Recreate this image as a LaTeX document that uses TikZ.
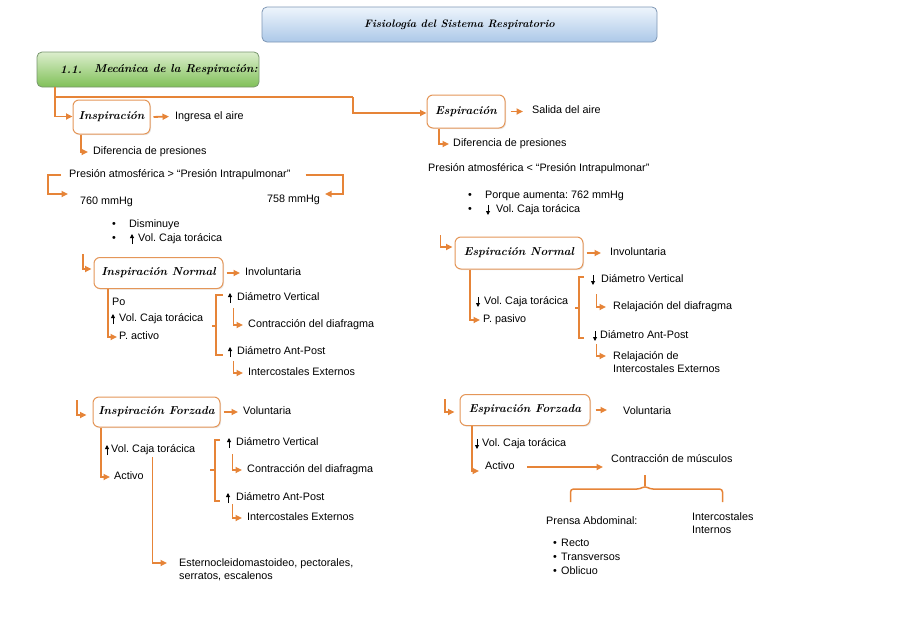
\documentclass[tikz,border=0pt]{standalone}
\usepackage{fontspec}
\newfontfamily\sansf{Liberation Sans}
\usetikzlibrary{arrows.meta,shadows,calc}
\definecolor{orl}{RGB}{230,132,56}
\definecolor{boxo}{RGB}{228,150,88}
\definecolor{ttlA}{RGB}{238,245,252}
\definecolor{ttlB}{RGB}{172,200,232}
\definecolor{ttlD}{RGB}{125,150,180}
\definecolor{grA}{RGB}{220,238,205}
\definecolor{grB}{RGB}{128,192,88}
\definecolor{grD}{RGB}{120,150,110}
\frenchspacing
\begin{document}
\begin{tikzpicture}[x=1pt,y=-1pt,
  txt/.style={anchor=west, inner sep=0pt, align=left, text height=8pt, text depth=2.5pt,
     font=\sansf\fontsize{10.8}{13.5}\selectfont},
  txtm/.style={txt, text height={}, text depth={}},
  concept/.style={draw=boxo, line width=1pt, fill=white, rounded corners=6pt,
     drop shadow={opacity=0.18, shadow xshift=1pt, shadow yshift=-1.2pt},
     font=\fontsize{11.5}{14}\selectfont\bfseries\itshape, inner sep=0pt},
  ttlbox/.style={draw=ttlD, line width=0.8pt, rounded corners=5pt, top color=ttlA, bottom color=ttlB,
     font=\fontsize{10.8}{13}\selectfont\bfseries\itshape, inner sep=0pt},
  secbox/.style={draw=grD, line width=0.8pt, rounded corners=5pt, top color=grA, bottom color=grB, inner sep=0pt},
  sectxt/.style={anchor=west, inner sep=0pt, font=\fontsize{11.5}{13}\selectfont\bfseries\itshape},
  con/.style={draw=orl, line width=1.8pt, -{Triangle[length=6.5pt,width=6pt]}},
  ln/.style={draw=orl, line width=1.5pt},
  vup/.style={draw=black, line width=0.9pt, -{Triangle[length=4pt,width=4pt]}}
]
\useasboundingbox (0,0) rectangle (905,640);

% ---- headers ----
\node[ttlbox, minimum width=395pt, minimum height=35pt] (ttl) at (459.5,24.5) {Fisiología del Sistema Respiratorio};
\node[secbox, minimum width=222pt, minimum height=35pt] (sec) at (148,69.5) {};
\node[sectxt] (secn) at (60,69.5) {1.1.};
\node[sectxt] (sect) at (94,69.5) {Mecánica de la Respiración:};

% ---- main concepts ----
\node[concept, minimum width=77pt, minimum height=34pt] (insp) at (111.5,117) {Inspiración};
\node[concept, minimum width=78pt, minimum height=33pt] (esp) at (466,111.5) {Espiración};
\node[concept, minimum width=129pt, minimum height=31pt] (inN) at (158.5,273) {Inspiración Normal};
\node[concept, minimum width=128pt, minimum height=32pt] (espN) at (519,253) {Espiración Normal};
\node[concept, minimum width=127pt, minimum height=30pt] (inF) at (156.5,412) {Inspiración Forzada};
\node[concept, minimum width=130pt, minimum height=31pt] (espF) at (525,410) {Espiración Forzada};

% ---- top connectors ----
\coordinate (b1) at (353,97);
\draw[con] ([xshift=18pt]sec.south west) |- ([yshift=0.5pt]insp.west);
\draw[con, -] ([xshift=18pt]sec.south west) |- (b1);
\draw[con] (b1) |- ([yshift=-1.5pt]esp.west);

% ---- Inspiración ----
\node[txt] (ingresa) at (175,116.5) {Ingresa el aire};
\draw[con, shorten <=3pt, shorten >=6pt] (insp.east) -- (ingresa.west);
\node[txt] (dif1) at (93,152) {Diferencia de presiones};
\draw[con, shorten >=5pt] ([xshift=8.5pt]insp.south west) |- (dif1.west);
\node[txt] (pat1) at (69,175) {Presión atmosférica > “Presión Intrapulmonar”};
\node[txt] (m760) at (80,202) {760 mmHg};
\node[txt] (m758) at (267,200) {758 mmHg};
\coordinate (lb1) at (48,175);
\coordinate (lb2) at (68,194);
\coordinate (rb1) at (343,175);
\coordinate (rb2) at (325,194);
\draw[con] ([xshift=-8pt]pat1.west) -- (lb1) |- (lb2);
\draw[con] ([xshift=15pt]pat1.east) -- (rb1) |- (rb2);
\node[txt] (bl1) at (112,225) {•};
\node[txt] (dism) at (129,225) {Disminuye};
\node[txt] (bl2) at (112,239) {•};
\draw[vup] (132,244) -- (132,234);
\node[txt] (volA) at (138,239) {Vol. Caja torácica};

% ---- Espiración ----
\node[txt] (salida) at (532,111) {Salida del aire};
\draw[con, shorten <=5pt, shorten >=9pt] (esp.east) -- (esp.east -| salida.west);
\node[txt] (dif2) at (453,144) {Diferencia de presiones};
\draw[con, shorten >=4pt] ([xshift=12.5pt]esp.south west) |- (dif2.west);
\node[txt] (pat2) at (428,169) {Presión atmosférica < “Presión Intrapulmonar”};
\node[txt] (br1) at (468,196) {•};
\node[txt] (aum) at (485,196) {Porque aumenta: 762 mmHg};
\node[txt] (br2) at (468,210) {•};
\draw[vup] (488,205) -- (488,215);
\node[txt] (volB) at (496,210) {Vol. Caja torácica};

% ---- Inspiración Normal ----
\coordinate (inNt) at (83,254);
\draw[con, shorten >=2pt] (inNt) |- ([yshift=4pt]inN.west);
\node[txt] (inv1) at (245,273) {Involuntaria};
\draw[con, shorten <=3pt, shorten >=5pt] (inN.east) -- (inN.east -| inv1.west);
\node[txt] (po) at (112,303) {Po};
\draw[vup] (113,324) -- (113,314);
\node[txt] (volN) at (119,319) {Vol. Caja torácica};
\node[txt] (pact) at (119,337) {P. activo};
\draw[con, shorten >=2pt] ([xshift=14.5pt]inN.south west) |- (pact.west);
\draw[ln] (212,326) -- (216,326);
\draw[ln] (223,295) -- (216,295) -- (216,355) -- (223,355);
\draw[vup] (230,303) -- (230,293);
\node[txt] (dv1) at (237,298) {Diámetro Vertical};
\node[txt] (cd1) at (248,325) {Contracción del diafragma};
\draw[con, shorten >=5pt] ($(dv1.south west)+(-3.5,5)$) |- (cd1.west);
\draw[vup] (230,357) -- (230,347);
\node[txt] (da1) at (237,352) {Diámetro Ant-Post};
\node[txt] (ie1) at (248,373) {Intercostales Externos};
\draw[con, shorten >=5pt] ($(da1.south west)+(-3.5,4)$) |- (ie1.west);

% ---- Espiración Normal ----
\coordinate (espNt) at (440.5,235);
\draw[con, shorten >=2pt] (espNt) |- ([yshift=6pt]espN.west);
\node[txt] (inv2) at (610,253) {Involuntaria};
\draw[con, shorten <=3pt, shorten >=9pt] (espN.east) -- (espN.east -| inv2.west);
\draw[vup] (478,297) -- (478,307);
\node[txt] (volE) at (484,302) {Vol. Caja torácica};
\node[txt] (ppas) at (483,320) {P. pasivo};
\draw[con, shorten >=3pt] ([xshift=15.5pt]espN.south west) |- (ppas.west);
\draw[ln] (575,308) -- (579,308);
\draw[ln] (584,277) -- (579,277) -- (579,338) -- (584,338);
\draw[vup] (593,275) -- (593,285);
\node[txt] (dv2) at (601,280) {Diámetro Vertical};
\node[txt] (rd2) at (613,307) {Relajación del diafragma};
\draw[con, shorten >=7pt] ($(dv2.south west)+(-4.5,9)$) |- (rd2.west);
\draw[vup] (595,331) -- (595,341);
\node[txt] (da2) at (600,336) {Diámetro Ant-Post};
\node[txtm] (ri2) at (613,362) {Relajación de\\Intercostales Externos};
\draw[con, shorten >=7pt] ($(da2.south west)+(-3.5,3)$) |- ([yshift=6pt]ri2.west);

% ---- Inspiración Forzada ----
\coordinate (inFt) at (77,400);
\draw[con, shorten >=6pt] (inFt) |- ([yshift=-3pt]inF.west);
\node[txt] (vol1) at (243,412) {Voluntaria};
\draw[con, shorten <=3pt, shorten >=5pt] (inF.east) -- (inF.east -| vol1.west);
\draw[vup] (107,455) -- (107,445);
\node[txt] (volF) at (111,450) {Vol. Caja torácica};
\node[txt] (actF) at (114,477) {Activo};
\draw[con, shorten >=4pt] ([xshift=8.5pt]inF.south west) |- (actF.west);
\node[txtm] (est) at (179,570) {Esternocleidomastoideo, pectorales,\\serratos, escalenos};
\draw[con, shorten >=12pt] ($(volF.south west)+(41.5,2)$) |- ([yshift=7pt]est.west);
\draw[ln] (210,470) -- (215,470);
\draw[ln] (220,440) -- (215,440) -- (215,501) -- (220,501);
\draw[vup] (229,448) -- (229,438);
\node[txt] (dv3) at (236,443) {Diámetro Vertical};
\node[txt] (cd3) at (247,470) {Contracción del diafragma};
\draw[con, shorten >=5pt] ($(dv3.south west)+(-3.5,6)$) |- (cd3.west);
\draw[vup] (228,503) -- (228,493);
\node[txt] (da3) at (236,498) {Diámetro Ant-Post};
\node[txt] (ie3) at (247,518) {Intercostales Externos};
\draw[con, shorten >=5pt] ($(da3.south west)+(-3.5,1)$) |- (ie3.west);

% ---- Espiración Forzada ----
\coordinate (espFt) at (445,399);
\draw[con, shorten >=5pt] (espFt) |- ([yshift=-2pt]espF.west);
\node[txt] (vol2) at (623,412) {Voluntaria};
\draw[con, shorten <=5pt, shorten >=16pt] (espF.east) -- (espF.east -| vol2.west);
\draw[vup] (477,439) -- (477,449);
\node[txt] (volEF) at (482,444) {Vol. Caja torácica};
\node[txt] (actEF) at (485,467) {Activo};
\draw[con, shorten >=6pt] ([xshift=12.5pt]espF.south west) |- ([yshift=-4pt]actEF.west);
\node[txt] (contr) at (611,460) {Contracción de músculos};
\draw[con, shorten <=12pt, shorten >=8pt] (actEF.east) -- (actEF.east -| contr.west);
\coordinate (brc) at (645,489);
\draw[ln] ($(contr.south west)+(34,10)$) -- ($(brc)+(0,-3)$);
\draw[ln, rounded corners=3pt] (570.5,502) -- (570.5,489) -- (640,489) -- (645,486) -- (650,489) -- (722.5,489) -- (722.5,502);
\node[txt] (prensa) at (546,522) {Prensa Abdominal:};
\node[txtm] (intc) at (692,523) {Intercostales\\Internos};
\node[txt] (bt1) at (553,544) {•};
\node[txt] (recto) at (561,544) {Recto};
\node[txt] (bt2) at (553,558) {•};
\node[txt] (trans) at (561,558) {Transversos};
\node[txt] (bt3) at (553,572) {•};
\node[txt] (obl) at (561,572) {Oblicuo};
\end{tikzpicture}
\end{document}
